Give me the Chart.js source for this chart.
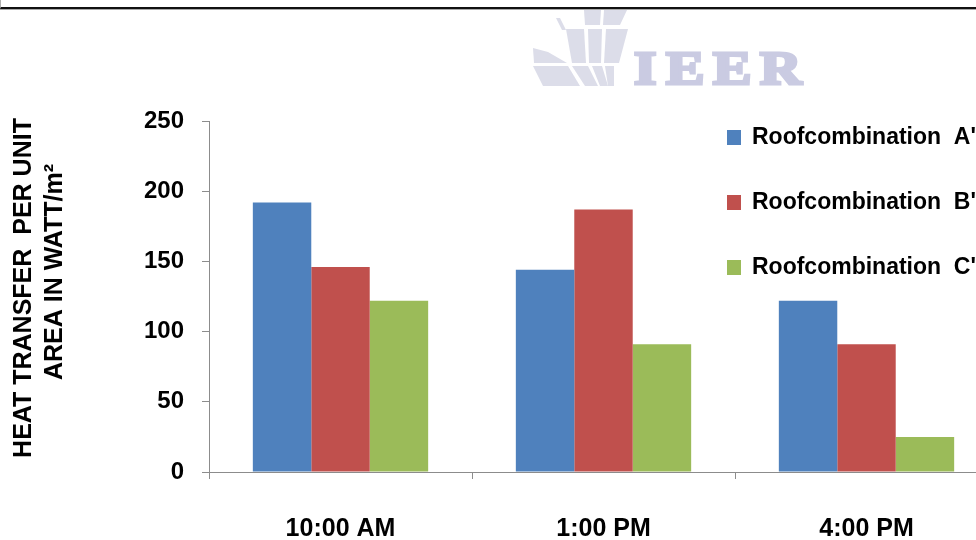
<!DOCTYPE html>
<html>
<head>
<meta charset="utf-8">
<script src="https://cdn.jsdelivr.net/npm/chart.js@4.4.1/dist/chart.umd.min.js"></script>
<style>
  html, body { margin: 0; padding: 0; background: #fff; overflow: hidden; width: 976px; height: 540px; }
  #wrap { position: relative; width: 976px; height: 540px; overflow: hidden; }
  #frame { position: absolute; left: 0; top: 0; width: 976px; height: 7px; border-left: 1px solid #b0b0b0; border-bottom: 2px solid #111; box-sizing: content-box; }
  #frame2 { position: absolute; left: 0; top: 9px; width: 976px; height: 1px; background: #a8a8a8; }
  canvas { position: absolute; left: 0; top: 0; }
</style>
</head>
<body>
<div id="wrap">
  <canvas id="chart" width="1040" height="540"></canvas>
  <div id="frame"></div>
  <div id="frame2"></div>
</div>
<script>
// Heat transfer per unit area for three roof combinations at three times of day
const categories = ['10:00 AM', '1:00 PM', '4:00 PM'];
const seriesNames = ["Roofcombination  A'", "Roofcombination  B'", "Roofcombination  C'"];
const roofA = [192, 144, 122];
const roofB = [146, 187, 91];
const roofC = [122, 91, 25];
const yTickValues = [0, 50, 100, 150, 200, 250];
const yTitleLines = ['HEAT TRANSFER  PER UNIT', 'AREA IN WATT/m\u00B2'];
const seriesColors = ['#4f81bd', '#c0504d', '#9bbb59'];

const AXIS = '#8c8c8c';

// faint journal mark behind the plot
const logoPlugin = {
  id: 'logoMark',
  beforeDraw(chart) {
    const ctx = chart.ctx;
    ctx.save();
    ctx.fillStyle = '#dcdde9';
    const polys = [
      [[556,18],[560,18],[566,30],[562,30]],
      [[584,10],[601,10],[600,25],[585,25]],
      [[604,10],[627,10],[620,25],[603,25]],
      [[533,48],[548,52],[567,63],[534,63]],
      [[566,29],[584,29],[586,63],[572,63]],
      [[588,29],[602,29],[601,63],[589,63]],
      [[606,29],[628,29],[619,63],[604,63]],
      [[533,66],[568,66],[580,86],[543,86]],
      [[572,66],[588,66],[598,86],[585,86]],
      [[592,66],[602,66],[608,86],[600,86]],
      [[605,66],[614,66],[614,86],[608,86]]
    ];
    polys.forEach(p => {
      ctx.beginPath();
      ctx.moveTo(p[0][0], p[0][1]);
      for (let i = 1; i < p.length; i++) ctx.lineTo(p[i][0], p[i][1]);
      ctx.closePath();
      ctx.fill();
    });
    ctx.fillStyle = '#cacbe2';
    ctx.strokeStyle = '#cacbe2';
    ctx.lineWidth = 3;
    ctx.lineJoin = 'miter';
    ctx.font = 'bold 46px "Liberation Serif", "DejaVu Serif", serif';
    ctx.textBaseline = 'alphabetic';
    const letters = [['I', 634], ['E', 666], ['E', 713], ['R', 760]];
    letters.forEach(([ch, x]) => {
      ctx.save();
      ctx.translate(x, 84);
      ctx.scale(1.25, 1);
      ctx.fillText(ch, 0, 0);
      ctx.strokeText(ch, 0, 0);
      ctx.restore();
    });
    ctx.restore();
  }
};

// rotated two-line axis title and the series key
const textPlugin = {
  id: 'titleAndKey',
  afterDraw(chart) {
    const ctx = chart.ctx;
    ctx.save();
    ctx.fillStyle = '#000';
    ctx.font = 'bold 25px "Liberation Sans", Arial, sans-serif';
    ctx.textAlign = 'center';
    ctx.textBaseline = 'middle';
    const titlePos = [[24, 288], [55, 272]];
    yTitleLines.forEach((line, i) => {
      ctx.save();
      ctx.translate(titlePos[i][0], titlePos[i][1]);
      ctx.rotate(-Math.PI / 2);
      ctx.fillText(line, 0, 0);
      ctx.restore();
    });

    ctx.textAlign = 'left';
    ctx.font = 'bold 23px "Liberation Sans", Arial, sans-serif';
    chart.data.datasets.forEach((ds, i) => {
      const cy = 137 + i * 65;
      ctx.fillStyle = ds.backgroundColor;
      ctx.fillRect(727, cy - 7, 14, 15);
      ctx.fillStyle = '#000';
      ctx.fillText(ds.label, 752, cy + 1);
    });
    ctx.restore();
  }
};

new Chart(document.getElementById('chart'), {
  type: 'bar',
  data: {
    labels: categories,
    datasets: [
      { label: seriesNames[0], data: roofA, backgroundColor: seriesColors[0] },
      { label: seriesNames[1], data: roofB, backgroundColor: seriesColors[1] },
      { label: seriesNames[2], data: roofC, backgroundColor: seriesColors[2] }
    ]
  },
  options: {
    responsive: false,
    devicePixelRatio: 1,
    animation: false,
    layout: { padding: { left: 0, right: 42, top: 121, bottom: 0 } },
    datasets: { bar: { categoryPercentage: 3 / 4.5, barPercentage: 1, borderWidth: 0 } },
    plugins: { legend: { display: false }, tooltip: { enabled: false } },
    scales: {
      x: {
        grid: { display: true, offset: true, drawOnChartArea: false, drawTicks: true, tickLength: 7, color: AXIS, lineWidth: 1 },
        border: { display: true, color: AXIS, width: 1 },
        ticks: {
          color: '#000',
          padding: 35,
          font: { family: '"Liberation Sans", Arial, sans-serif', weight: 'bold', size: 25 }
        },
        afterFit(scale) { scale.height = 68; }
      },
      y: {
        min: 0,
        max: 250,
        afterBuildTicks(scale) { scale.ticks = yTickValues.map(v => ({ value: v })); },
        grid: { display: true, drawOnChartArea: false, drawTicks: true, tickLength: 7, color: AXIS, lineWidth: 1 },
        border: { display: true, color: AXIS, width: 1 },
        ticks: {
          color: '#000',
          padding: 18,
          font: { family: '"Liberation Sans", Arial, sans-serif', weight: 'bold', size: 24 }
        },
        afterFit(scale) { scale.width = 209; }
      }
    }
  },
  plugins: [logoPlugin, textPlugin]
});
</script>
</body>
</html>
